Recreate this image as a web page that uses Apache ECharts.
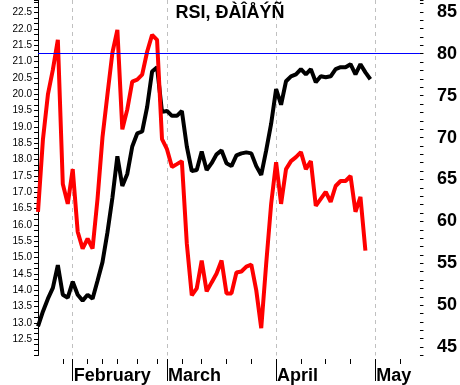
<!DOCTYPE html>
<html><head><meta charset="utf-8">
<script src="https://cdn.jsdelivr.net/npm/echarts@6/dist/echarts.min.js"></script>
<style>html,body{margin:0;padding:0;background:#fff}#c{width:460px;height:385px}</style>
</head><body><div id="c"></div>
<script>
// Price (left axis, black) – one value per trading day
const priceValues = [12.89, 13.35, 13.74, 14.07, 14.77, 13.86, 13.77, 14.26, 13.86, 13.68,
  13.86, 13.74, 14.29, 14.86, 15.77, 16.83, 18.10, 17.19, 17.56, 18.40,
  18.80, 18.86, 19.61, 20.70, 20.83, 19.46, 19.49, 19.34, 19.34, 19.49,
  18.40, 17.65, 17.68, 18.25, 17.68, 17.89, 18.16, 18.28, 17.89, 17.80,
  18.13, 18.19, 18.22, 18.19, 17.80, 17.53, 18.28, 19.10, 20.16, 19.68,
  20.40, 20.55, 20.61, 20.77, 20.61, 20.77, 20.37, 20.55, 20.52, 20.55,
  20.77, 20.83, 20.83, 20.92, 20.61, 20.92, 20.67, 20.46];
// RSI (right axis, red)
const rsiValues = [61.14, 69.80, 75.14, 78.10, 81.66, 64.46, 62.09, 66.24, 58.77, 56.75,
  57.94, 56.75, 62.68, 70.04, 75.14, 80.12, 82.85, 70.98, 73.36, 76.68,
  76.92, 77.51, 80.24, 82.25, 81.66, 69.80, 68.61, 66.48, 66.83, 67.19,
  57.34, 51.17, 52.00, 55.33, 51.65, 52.72, 53.78, 55.33, 51.41, 51.41,
  53.90, 54.02, 54.61, 54.85, 51.77, 47.26, 54.97, 62.09, 67.07, 62.09,
  66.24, 67.19, 67.66, 68.26, 66.24, 67.19, 61.85, 62.68, 63.51, 62.33,
  64.22, 64.82, 64.82, 65.41, 61.14, 62.92, 56.51];
const rsiLevel = 80;
const monthLabels = ['February', 'March', 'April', 'May'];
const monthStartIndex = [7, 26, 48, 68];
const weekTickIndex = [5, 10, 13, 16, 20, 24, 29, 33, 38, 43, 53, 58, 63, 73];
const dayCount = 78;
const categories = Array.from({length: dayCount}, (_, i) => 'day' + i);

const FONT = 'Arial, "Liberation Sans", sans-serif';
const chart = echarts.init(document.getElementById('c'), null, {renderer: 'canvas'});
const isMonth = (i) => monthStartIndex.indexOf(i) >= 0;
const isWeek = (i) => weekTickIndex.indexOf(i) >= 0;

chart.setOption({
  animation: false,
  backgroundColor: '#fff',
  title: {
    text: 'RSI, ÐÀÎÅÝÑ', left: 'center', top: 4, padding: 0,
    textStyle: {fontFamily: FONT, fontSize: 18, fontWeight: 'bold', color: '#000'}
  },
  grid: {left: 38, right: 40, top: 0, bottom: 27.5, containLabel: false},
  xAxis: [
    {
      type: 'category', data: categories, boundaryGap: false, position: 'bottom', offset: 3.5,
      axisLine: {show: false},
      axisTick: {show: true, length: 5, interval: (i) => isWeek(i), lineStyle: {color: '#000', width: 1}},
      axisLabel: {show: false}, splitLine: {show: false}
    },
    {
      type: 'category', data: categories, boundaryGap: false, position: 'bottom', offset: 3.5,
      axisLine: {show: false},
      axisTick: {show: true, length: 22, interval: (i) => isMonth(i), lineStyle: {color: '#000', width: 1}},
      axisLabel: {
        show: true, interval: (i) => isMonth(i), align: 'left', margin: 8, padding: [0, 0, 0, 1],
        fontFamily: FONT, fontSize: 18, fontWeight: 'bold', color: '#000',
        formatter: (v, i) => { const k = monthStartIndex.indexOf(i); return k >= 0 ? monthLabels[k] : ''; }
      },
      splitLine: {show: true, interval: (i) => isMonth(i), lineStyle: {color: '#c0c0c0', width: 1, type: [4, 4]}}
    }
  ],
  yAxis: [
    {
      type: 'value', position: 'left', min: 12, max: 22.887, interval: 0.5,
      axisLine: {show: true, lineStyle: {color: '#000', width: 1}},
      axisTick: {show: true, inside: false, length: 4, lineStyle: {color: '#000', width: 1}},
      minorTick: {show: true, splitNumber: 3, length: 4, lineStyle: {color: '#000', width: 1}},
      splitLine: {show: false},
      axisLabel: {
        margin: 6, fontFamily: FONT, fontSize: 10, color: '#000',
        formatter: (v) => (v < 12.49 || v > 22.51) ? '' : v.toFixed(1)
      }
    },
    {
      type: 'value', position: 'right', min: 44, max: 86.41, interval: 1,
      axisLine: {show: false},
      axisTick: {show: true, inside: false, length: 3.5, lineStyle: {color: '#000', width: 1}},
      splitLine: {show: false},
      axisLabel: {
        margin: 17, fontFamily: FONT, fontSize: 18, fontWeight: 'bold', color: '#000',
        formatter: (v) => { const r = Math.round(v); return (Math.abs(v - r) < 0.01 && r % 5 === 0 && r >= 45 && r <= 85) ? String(r) : ''; }
      }
    }
  ],
  series: [
    {
      type: 'line', name: 'price', xAxisIndex: 0, yAxisIndex: 0, data: priceValues,
      showSymbol: false, symbol: 'none', lineStyle: {color: '#000', width: 4}, z: 2
    },
    {
      type: 'line', name: 'rsi', xAxisIndex: 0, yAxisIndex: 1, data: rsiValues,
      showSymbol: false, symbol: 'none', lineStyle: {color: '#ff0000', width: 4}, z: 3,
      markLine: {
        silent: true, symbol: 'none', label: {show: false},
        lineStyle: {color: '#0000ff', width: 1, type: 'solid'},
        data: [{yAxis: rsiLevel}]
      }
    }
  ]
});
</script>
</body></html>
